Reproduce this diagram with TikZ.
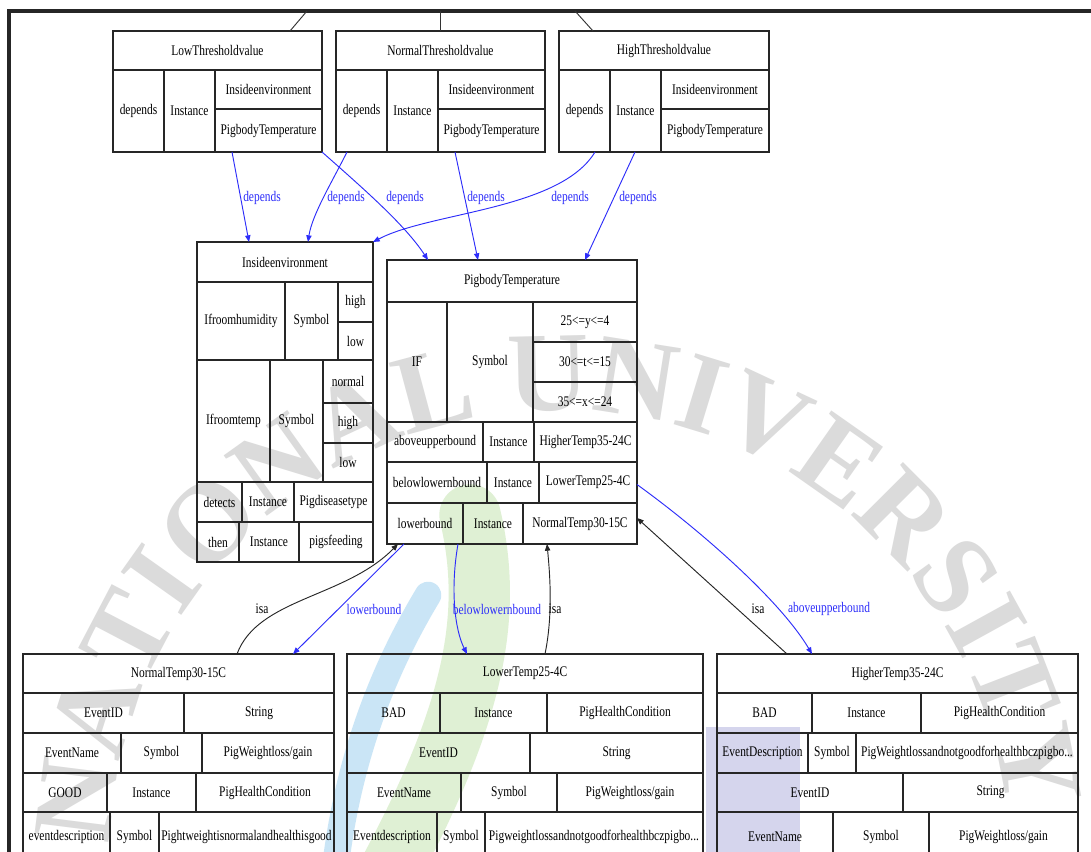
\documentclass[tikz,border=0pt]{standalone}
\usepackage{fontspec}
\setmainfont{Liberation Serif}[FakeStretch=0.78]
\newfontfamily\wmfont{Liberation Serif}
\usetikzlibrary{arrows.meta,calc,decorations.text}
\definecolor{edgeblue}{RGB}{45,45,250}
\definecolor{swblue}{RGB}{150,205,238}
\definecolor{swgreen}{RGB}{185,222,160}
\definecolor{lavender}{RGB}{200,200,232}
% \cell{name}{x1}{y1}{x2}{y2}{text}: one table cell given by its corners (px)
\newcommand\cell[6]{\node[cellbox, minimum width={(#4-(#2))*0.75pt}, minimum height={(#5-(#3))*0.75pt}] (#1) at ({(#2+#4)/2},{(#3+#5)/2}) {#6};}
\begin{document}
\begin{tikzpicture}[x=0.75pt,y=-0.75pt,
  cellbox/.style={draw=black!85, line width=0.9pt, inner sep=0pt, outer sep=0pt, font=\fontsize{11}{13}\selectfont},
  conn/.style={line width=0.7pt},
  depedge/.style={conn, draw=edgeblue, -{Triangle[length=5pt,width=4pt]}},
  isaedge/.style={conn, draw=black!85, -{Triangle[length=5pt,width=4pt]}},
  elabel/.style={font=\fontsize{11}{13}\selectfont, inner sep=1pt},
  bluelabel/.style={elabel, text=edgeblue},
]
\useasboundingbox (0,0) rectangle (1091,852);
\clip (0,0) rectangle (1091,852);
\fill[white] (0,0) rectangle (1091,852);

% ---- faint emblem in the background ----
\fill[lavender, opacity=0.75] (706,727) rectangle (800,860);
\draw[swgreen, line width=46pt, opacity=0.45, line cap=round] (470,515) .. controls (495,620) and (470,720) .. (390,870);
\draw[swblue, line width=20pt, opacity=0.5, line cap=round] (428,595) .. controls (395,650) and (350,740) .. (335,870);
\coordinate (wmC) at (560,860);
\path[decorate, decoration={text along path, text align=fit to path, text color=black!14,
  text={|\wmfont\bfseries\fontsize{85}{85}\selectfont|NATIONAL UNIVERSITY}}]
  (wmC) ++(-178:450) arc[start angle=-178, end angle=-6, radius=450];

% ---- frame ----
\draw[line width=2.3pt, black!85] (9,860) |- (1095,11);

% ---- threshold tables ----
\cell{lt}{113}{31}{322}{70}{LowThresholdvalue}
\cell{ltDep}{113}{70}{164}{152}{depends}
\cell{ltInst}{164}{70}{215}{152}{Instance}
\cell{ltEnv}{215}{70}{322}{109}{Insideenvironment}
\cell{ltPig}{215}{109}{322}{152}{PigbodyTemperature}

\cell{nt}{336}{31}{545}{70}{NormalThresholdvalue}
\cell{ntDep}{336}{70}{387}{152}{depends}
\cell{ntInst}{387}{70}{438}{152}{Instance}
\cell{ntEnv}{438}{70}{545}{109}{Insideenvironment}
\cell{ntPig}{438}{109}{545}{152}{PigbodyTemperature}

\cell{ht}{559}{31}{769}{70}{HighThresholdvalue}
\cell{htDep}{559}{70}{610}{152}{depends}
\cell{htInst}{610}{70}{661}{152}{Instance}
\cell{htEnv}{661}{70}{769}{109}{Insideenvironment}
\cell{htPig}{661}{109}{769}{152}{PigbodyTemperature}

% ---- Insideenvironment ----
\cell{ie}{197}{242}{373}{282}{Insideenvironment}
\cell{ieHum}{197}{282}{285}{360}{Ifroomhumidity}
\cell{ieHumSym}{285}{282}{338}{360}{Symbol}
\cell{ieHighA}{338}{282}{373}{322}{high}
\cell{ieLowA}{338}{322}{373}{360}{low}
\cell{ieTemp}{197}{360}{270}{482}{Ifroomtemp}
\cell{ieTempSym}{270}{360}{323}{482}{Symbol}
\cell{ieNormal}{323}{360}{373}{403}{normal}
\cell{ieHighB}{323}{403}{373}{443}{high}
\cell{ieLowB}{323}{443}{373}{482}{low}
\cell{ieDet}{197}{482}{242}{522}{detects}
\cell{ieDetInst}{242}{482}{294}{522}{Instance}
\cell{ieDis}{294}{482}{373}{522}{Pigdiseasetype}
\cell{ieThen}{197}{522}{239}{562}{then}
\cell{ieThenInst}{239}{522}{299}{562}{Instance}
\cell{ieFeed}{299}{522}{373}{562}{pigsfeeding}

% ---- PigbodyTemperature ----
\cell{pt}{387}{260}{637}{302}{PigbodyTemperature}
\cell{ptIf}{387}{302}{447}{422}{IF}
\cell{ptSym}{447}{302}{533}{422}{Symbol}
\cell{ptRa}{533}{302}{637}{342}{25<=y<=4}
\cell{ptRb}{533}{342}{637}{382}{30<=t<=15}
\cell{ptRc}{533}{382}{637}{422}{35<=x<=24}
\cell{ptAbove}{387}{422}{483}{462}{aboveupperbound}
\cell{ptAboveInst}{483}{422}{534}{462}{Instance}
\cell{ptHigher}{534}{422}{637}{462}{HigherTemp35-24C}
\cell{ptBelow}{387}{462}{487}{503}{belowlowernbound}
\cell{ptBelowInst}{487}{462}{539}{503}{Instance}
\cell{ptLower}{539}{462}{637}{503}{LowerTemp25-4C}
\cell{ptLb}{387}{503}{463}{544}{lowerbound}
\cell{ptLbInst}{463}{503}{523}{544}{Instance}
\cell{ptNormal}{523}{503}{637}{544}{NormalTemp30-15C}

% ---- NormalTemp30-15C ----
\cell{nm}{23}{654}{334}{693}{NormalTemp30-15C}
\cell{nmId}{23}{693}{184}{733}{EventID}
\cell{nmStr}{184}{693}{334}{733}{String}
\cell{nmName}{23}{733}{121}{773}{EventName}
\cell{nmSym}{121}{733}{202}{773}{Symbol}
\cell{nmW}{202}{733}{334}{773}{PigWeightloss/gain}
\cell{nmGood}{23}{773}{107}{812}{GOOD}
\cell{nmInst}{107}{773}{196}{812}{Instance}
\cell{nmCond}{196}{773}{334}{812}{PigHealthCondition}
\cell{nmDesc}{23}{812}{110}{861}{eventdescription}
\cell{nmDSym}{110}{812}{159}{861}{Symbol}
\cell{nmDText}{159}{812}{334}{861}{Pightweightisnormalandhealthisgood}

% ---- LowerTemp25-4C ----
\cell{lw}{347}{654}{703}{693}{LowerTemp25-4C}
\cell{lwBad}{347}{693}{440}{733}{BAD}
\cell{lwInst}{440}{693}{547}{733}{Instance}
\cell{lwCond}{547}{693}{703}{733}{PigHealthCondition}
\cell{lwId}{347}{733}{530}{773}{EventID}
\cell{lwStr}{530}{733}{703}{773}{String}
\cell{lwName}{347}{773}{461}{812}{EventName}
\cell{lwSym}{461}{773}{557}{812}{Symbol}
\cell{lwW}{557}{773}{703}{812}{PigWeightloss/gain}
\cell{lwDesc}{347}{812}{437}{861}{Eventdescription}
\cell{lwDSym}{437}{812}{485}{861}{Symbol}
\cell{lwDText}{485}{812}{703}{861}{Pigweightlossandnotgoodforhealthbczpigbo...}

% ---- HigherTemp35-24C ----
\cell{hg}{717}{654}{1078}{693}{HigherTemp35-24C}
\cell{hgBad}{717}{693}{812}{733}{BAD}
\cell{hgInst}{812}{693}{921}{733}{Instance}
\cell{hgCond}{921}{693}{1078}{733}{PigHealthCondition}
\cell{hgDesc}{717}{733}{808}{773}{EventDescription}
\cell{hgDSym}{808}{733}{856}{773}{Symbol}
\cell{hgDText}{856}{733}{1078}{773}{PigWeightlossandnotgoodforhealthbczpigbo...}
\cell{hgId}{717}{773}{903}{812}{EventID}
\cell{hgStr}{903}{773}{1078}{812}{String}
\cell{hgName}{717}{812}{833}{861}{EventName}
\cell{hgSym}{833}{812}{929}{861}{Symbol}
\cell{hgW}{929}{812}{1078}{861}{PigWeightloss/gain}

% ---- links to the parents above ----
\coordinate (upA) at (307,11);
\coordinate (upB) at (440,11);
\coordinate (upC) at (575,11);
\draw[conn, black!80] (upA) -- ($(lt.north west)+(177,0)$);
\draw[conn, black!80] (upB) -- ($(nt.north west)+(104,0)$);
\draw[conn, black!80] (upC) -- ($(ht.north west)+(34,0)$);

% ---- depends edges ----
\draw[depedge] ($(ltPig.south west)+(17,0)$) -- ($(ie.north west)+(52,0)$);
\draw[depedge] ($(ntDep.south west)+(11,0)$) .. controls (332,182) and (312,215) .. ($(ie.north west)+(111,0)$);
\draw[depedge] (ltPig.south east) .. controls (365,190) and (405,225) .. ($(pt.north west)+(41,0)$);
\draw[depedge] ($(ntPig.south west)+(17,0)$) -- ($(pt.north west)+(91,0)$);
\draw[depedge] ($(htDep.south west)+(36,0)$) .. controls (560,210) and (430,212) .. (ie.north east);
\draw[depedge] ($(htInst.south west)+(25,0)$) -- ($(pt.north west)+(198,0)$);
\node[bluelabel] (lblA) at (262,198) {depends};
\node[bluelabel] (lblB) at (346,198) {depends};
\node[bluelabel] (lblC) at (405,198) {depends};
\node[bluelabel] (lblD) at (486,198) {depends};
\node[bluelabel] (lblE) at (570,198) {depends};
\node[bluelabel] (lblF) at (638,198) {depends};

% ---- edges between PigbodyTemperature and the temperature classes ----
\draw[isaedge] ($(nm.north west)+(214,0)$) .. controls (258,598) and (345,598) .. ($(ptLb.south west)+(11,0)$);
\draw[depedge] ($(ptLb.south west)+(17,0)$) -- ($(nm.north west)+(270,0)$);
\draw[depedge] ($(ptLb.south east)+(-5,0)$) .. controls (450,590) and (455,630) .. ($(lw.north west)+(120,0)$);
\draw[isaedge] ($(lw.north west)+(198,0)$) .. controls (553,615) and (550,575) .. ($(ptNormal.south west)+(24,0)$);
\draw[isaedge] ($(hg.north west)+(70,0)$) -- ($(ptNormal.south east)+(0,-26)$);
\draw[depedge] ($(ptLower.east)+(0,2)$) .. controls (700,530) and (780,600) .. ($(hg.north west)+(95,0)$);
\node[elabel] (lblG) at (262,609) {isa};
\node[bluelabel] (lblH) at (374,609) {lowerbound};
\node[bluelabel] (lblI) at (497,609) {belowlowernbound};
\node[elabel] (lblJ) at (555,609) {isa};
\node[elabel] (lblK) at (758,609) {isa};
\node[bluelabel] (lblL) at (829,609) {aboveupperbound};
\end{tikzpicture}
\end{document}
